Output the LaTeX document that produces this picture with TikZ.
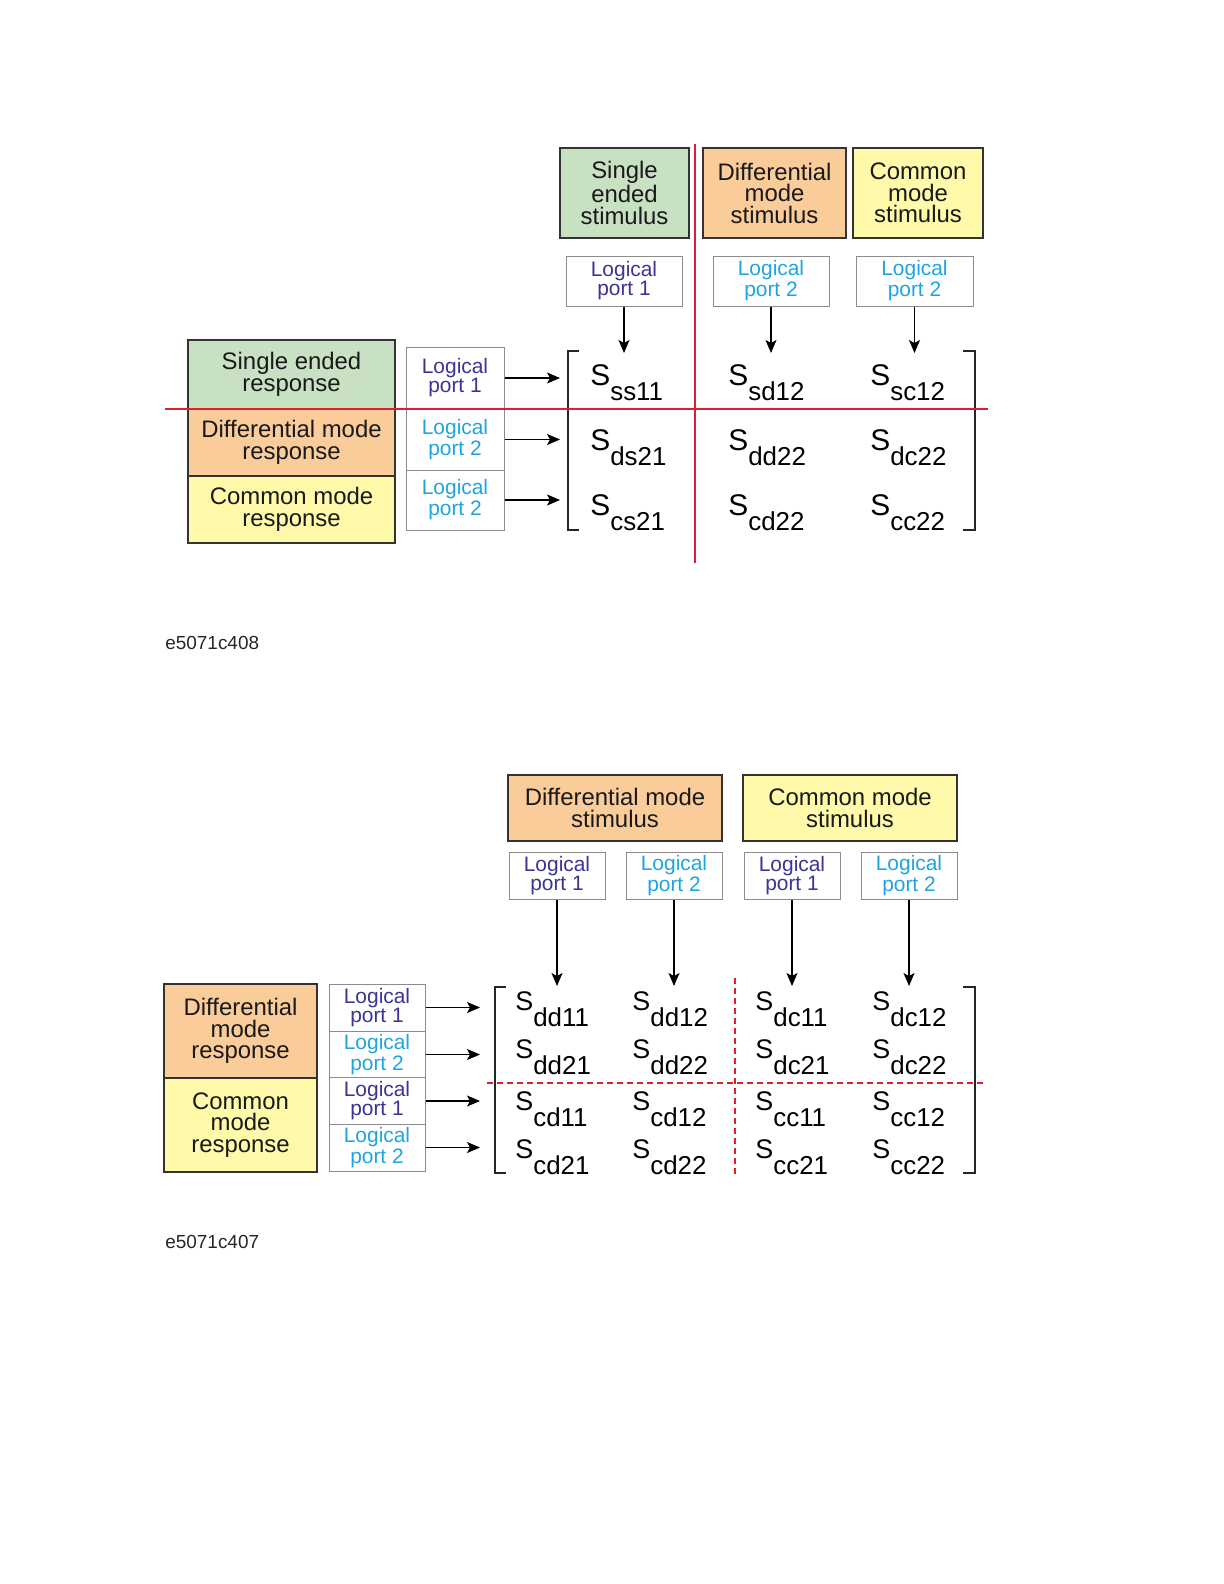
\documentclass[tikz,border=0pt]{standalone}
\usepackage{fontspec}
\setmainfont{Liberation Sans}
\usetikzlibrary{arrows.meta}

\definecolor{segreen}{RGB}{200,225,195}
\definecolor{dmorange}{RGB}{249,204,154}
\definecolor{cmyellow}{RGB}{255,249,170}
\definecolor{portone}{RGB}{58,52,150}
\definecolor{porttwo}{RGB}{30,165,225}
\definecolor{splitred}{RGB}{222,30,45}

\newcommand\Sm[2]{S\raisebox{-#1}{\fontsize{13}{13}\selectfont #2}}

\begin{document}
\begin{tikzpicture}[x=0.5bp, y=-0.5bp, >={Stealth[length=6.5bp,width=5.5bp,inset=1.5bp]},
	every node/.style={inner sep=0pt},
	modebox/.style={draw=black!80, line width=1.1bp, align=center, text=black!90, font=\fontsize{12}{10.8}\selectfont},
	portbox/.style={draw=black!45, line width=0.5bp, fill=white, align=center, font=\fontsize{10.5}{9.5}\selectfont},
	pone/.style={portbox, text=portone},
	ptwo/.style={portbox, text=porttwo},
	entry/.style={anchor=base west, font=\fontsize{15}{15}\selectfont},
	bentry/.style={anchor=base west, font=\fontsize{13.5}{13.5}\selectfont},
	feed/.style={->, line width=0.6bp},
	bracket/.style={line width=1bp, black!85},
	split/.style={splitred, line width=0.9bp}]
	\useasboundingbox (0,0) rectangle (1224,1584);

	% upper figure: stimulus columns
	\node[modebox, fill=segreen, minimum width=64.5bp, minimum height=45bp] (stimSE) at (624.5,193) {Single\\ended\\stimulus};
	\node[modebox, fill=dmorange, minimum width=71.5bp, minimum height=45bp] (stimDM) at (774.5,193) {Differential\\mode\\stimulus};
	\node[modebox, fill=cmyellow, minimum width=65bp, minimum height=45bp] (stimCM) at (918,193) {Common\\mode\\stimulus};
	\node[pone, minimum width=58bp, minimum height=25bp] (pA) at (624,281) {Logical\\port 1};
	\node[ptwo, minimum width=58bp, minimum height=25bp] (pB) at (771,281) {Logical\\port 2};
	\node[ptwo, minimum width=58.5bp, minimum height=25bp] (pC) at (914.5,281) {Logical\\port 2};
	\foreach \p in {pA,pB,pC} {
		\coordinate (t\p) at (\p.south |- 0,353);
		\draw[feed] (\p.south) -- (t\p);
	}

	% upper figure: response rows
	\node[modebox, fill=segreen, minimum width=103.5bp, minimum height=34.5bp] (respSE) at (291.5,374.5) {Single ended\\response};
	\node[modebox, fill=dmorange, minimum width=103.5bp, minimum height=33.5bp] (respDM) at (291.5,442.5) {Differential mode\\response};
	\node[modebox, fill=cmyellow, minimum width=103.5bp, minimum height=33.5bp] (respCM) at (291.5,509.5) {Common mode\\response};
	\node[pone, minimum width=49bp, minimum height=31bp] (lA) at (455,378) {Logical\\port 1};
	\node[ptwo, minimum width=49bp, minimum height=30.5bp] (lB) at (455,439.5) {Logical\\port 2};
	\node[ptwo, minimum width=49bp, minimum height=30bp] (lC) at (455,500) {Logical\\port 2};
	\foreach \p in {lA,lB,lC} {
		\coordinate (t\p) at (\p.east -| 560,0);
		\draw[feed] (\p.east) -- (t\p);
	}

	% upper matrix
	\foreach \y/\a/\b/\c in {385/ss11/sd12/sc12, 450/ds21/dd22/dc22, 515/cs21/cd22/cc22} {
		\node[entry] (s\a) at (590,\y) {\Sm{7.5bp}{\a}};
		\node[entry] (s\b) at (728,\y) {\Sm{7.5bp}{\b}};
		\node[entry] (s\c) at (870,\y) {\Sm{7.5bp}{\c}};
	}
	\draw[bracket] (579,351) -- (568,351) -- (568,530) -- (579,530);
	\draw[bracket] (963,351) -- (975,351) -- (975,530) -- (963,530);
	\draw[split] (165,409) -- (988,409);
	\draw[split] (695,144) -- (695,563);
	\node[anchor=west, font=\fontsize{9.5}{9.5}\selectfont, text=black!85] (figA) at (165,643) {e5071c408};

	% lower figure: stimulus columns
	\node[modebox, fill=dmorange, minimum width=107bp, minimum height=33bp] (bstimDM) at (615,808) {Differential mode\\stimulus};
	\node[modebox, fill=cmyellow, minimum width=107bp, minimum height=33bp] (bstimCM) at (850,808) {Common mode\\stimulus};
	\foreach \n/\x/\k/\d in {bpA/557/pone/1, bpB/674/ptwo/2, bpC/792/pone/1, bpD/909/ptwo/2} {
		\node[\k, minimum width=48bp, minimum height=23.5bp] (\n) at (\x,875.5) {Logical\\port \d};
		\coordinate (t\n) at (\n.south |- 0,986);
		\draw[feed] (\n.south) -- (t\n);
	}

	% lower figure: response rows
	\node[modebox, fill=dmorange, minimum width=76.5bp, minimum height=47bp] (brespDM) at (240.5,1031) {Differential\\mode\\response};
	\node[modebox, fill=cmyellow, minimum width=76.5bp, minimum height=47bp] (brespCM) at (240.5,1125) {Common\\mode\\response};
	\foreach \n/\y/\k/\d in {blA/1007.5/pone/1, blB/1054.5/ptwo/2, blC/1101/pone/1, blD/1147.5/ptwo/2} {
		\node[\k, minimum width=48bp, minimum height=23.5bp] (\n) at (377,\y) {Logical\\port \d};
		\coordinate (t\n) at (\n.east -| 480,0);
		\draw[feed] (\n.east) -- (t\n);
	}

	% lower matrix
	\foreach \y/\a/\b/\c/\d in {1010/dd11/dd12/dc11/dc12, 1058/dd21/dd22/dc21/dc22, 1110/cd11/cd12/cc11/cc12, 1158/cd21/cd22/cc21/cc22} {
		\node[bentry] (b\a) at (515,\y) {\Sm{8bp}{\a}};
		\node[bentry] (b\b) at (632,\y) {\Sm{8bp}{\b}};
		\node[bentry] (b\c) at (755,\y) {\Sm{8bp}{\c}};
		\node[bentry] (b\d) at (872,\y) {\Sm{8bp}{\d}};
	}
	\draw[bracket] (506,987) -- (495,987) -- (495,1173) -- (506,1173);
	\draw[bracket] (963,987) -- (975,987) -- (975,1173) -- (963,1173);
	\draw[split, dash pattern=on 3bp off 2bp] (487,1083) -- (985,1083);
	\draw[split, dash pattern=on 3bp off 2bp] (735,978) -- (735,1178);
	\node[anchor=west, font=\fontsize{9.5}{9.5}\selectfont, text=black!85] (figB) at (165,1242) {e5071c407};
\end{tikzpicture}
\end{document}
